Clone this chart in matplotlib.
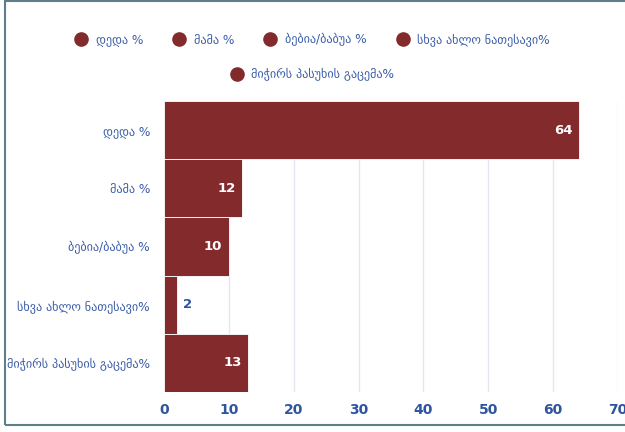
import matplotlib
matplotlib.use("Agg")
import matplotlib.pyplot as plt
from matplotlib.lines import Line2D
from matplotlib.patches import Rectangle

# Donnees
categories = ["დედა %", "მამა %", "ბებია/ბაბუა %", "სხვა ახლო ნათესავი%",
              "მიჭირს პასუხის გაცემა%"]
values = [64, 12, 10, 2, 13]
xticks = [0, 10, 20, 30, 40, 50, 60, 70]

bar_color = "#832B2C"
label_blue = "#3A5CA6"
tick_blue = "#2F55A0"
grid_color = "#E3E8F0"
border_color = "#5E7E8A"

plt.rcParams['font.family'] = ['DejaVu Sans']

fig = plt.figure(figsize=(6.25, 4.32), dpi=100)
ax = fig.add_axes([164 / 625, 1 - 392 / 432, 454 / 625, 291 / 432])

ypos = list(range(len(categories)))
ax.barh(ypos, values, height=1.0, color=bar_color, edgecolor="white",
        linewidth=0.6, zorder=3)

ax.set_xlim(0, 70)
ax.set_ylim(len(categories) - 0.5, -0.5)
ax.set_xticks(xticks)
ax.set_yticks(ypos)
ax.set_yticklabels(categories, fontsize=8.7, color=label_blue)
for lab in ax.get_xticklabels():
    lab.set_fontweight("bold")
ax.tick_params(axis="x", labelsize=10, labelcolor=tick_blue, length=0, pad=8)
ax.tick_params(axis="y", length=0, pad=10)
ax.grid(axis="x", color=grid_color, linewidth=1, zorder=0)
for s in ax.spines.values():
    s.set_visible(False)

# Etiquettes de valeurs
for y, v in zip(ypos, values):
    if v >= 5:
        ax.text(v - 1.0, y, str(v), ha="right", va="center", color="white",
                fontsize=9.5, fontweight="bold", zorder=4)
    else:
        ax.text(v + 1.0, y, str(v), ha="left", va="center", color=tick_blue,
                fontsize=9.5, fontweight="bold", zorder=4)

# Legende sur deux lignes
def handle(label):
    return Line2D([], [], marker="o", linestyle="", markersize=9.5,
                  markerfacecolor=bar_color, markeredgecolor=bar_color,
                  label=label)

leg1 = fig.legend(handles=[handle(c) for c in categories[:4]], loc="center",
                  bbox_to_anchor=(0.5, 1 - 40 / 432), ncol=4, frameon=False,
                  fontsize=8.7, handletextpad=0.7, columnspacing=2.5,
                  handlelength=1.0, labelcolor=label_blue)
leg2 = fig.legend(handles=[handle(categories[4])], loc="center",
                  bbox_to_anchor=(0.5, 1 - 75 / 432), ncol=1, frameon=False,
                  fontsize=8.7, handletextpad=0.7, handlelength=1.0,
                  labelcolor=label_blue)

# Cadre
fig.patches.append(Rectangle((5 / 625, 1 - 425 / 432), 1.0, 424 / 432,
                             transform=fig.transFigure, fill=False,
                             edgecolor=border_color, linewidth=1.5))

fig.savefig("out.png", dpi=100)
